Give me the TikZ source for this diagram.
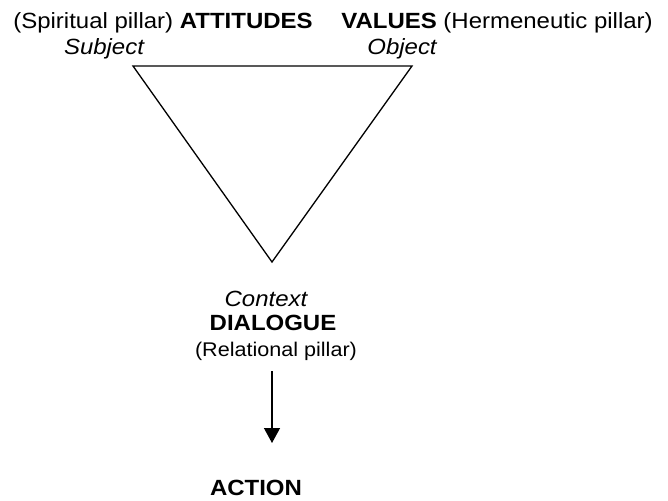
\documentclass[tikz,border=0pt]{standalone}
\usepackage{fontspec}
\setmainfont{Liberation Sans}
\usetikzlibrary{arrows.meta}
\newcommand{\wide}[1]{\scalebox{1.09}[1]{#1}}
\begin{document}
\begin{tikzpicture}[x=1pt,y=1pt,
  lbl/.style={anchor=base,inner sep=0pt,font=\fontsize{22}{26}\selectfont},
  small/.style={font=\fontsize{19.8}{23}\selectfont},
  edge/.style={line width=1.3pt},
  flow/.style={line width=1.3pt,-{Triangle[length=15pt,width=16pt]}}]
\useasboundingbox (0,0) rectangle (668,-500);
\coordinate (tl) at (133,-66);
\coordinate (tr) at (412,-66);
\coordinate (bt) at (272,-262);
\draw[edge,line join=miter] (tl) -- (tr) -- (bt) -- cycle;
\node[lbl] (att) at (163,-29) {\wide{(Spiritual pillar) \textbf{ATTITUDES}}};
\node[lbl] (subj) at (104,-55) {\wide{\itshape Subject}};
\node[lbl] (val) at (497,-29) {\wide{\textbf{VALUES} (Hermeneutic pillar)}};
\node[lbl] (obj) at (402,-55) {\wide{\itshape Object}};
\node[lbl] (ctx) at (266,-306) {\wide{\itshape Context}};
\node[lbl] (dia) at (273,-330) {\wide{\textbf{DIALOGUE}}};
\node[lbl,small] (rel) at (276,-356) {\wide{(Relational pillar)}};
\node[lbl] (act) at (256,-495) {\wide{\textbf{ACTION}}};
\coordinate (a1) at (272,-371);
\coordinate (a2) at (272,-443);
\draw[flow] (a1) -- (a2);
\end{tikzpicture}
\end{document}
